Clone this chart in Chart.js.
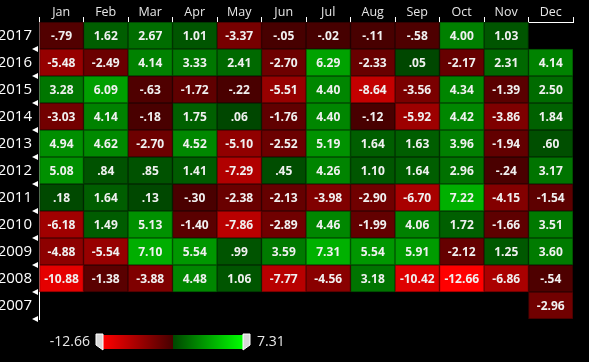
<!DOCTYPE html>
<html>
<head>
<meta charset="utf-8">
<script src="https://cdn.jsdelivr.net/npm/chart.js@4/dist/chart.umd.min.js"></script>
<style>
html,body{margin:0;padding:0;background:#000;}
#wrap{width:589px;height:362px;position:relative;}
</style>
</head>
<body>
<div id="wrap"><canvas id="c" width="589" height="362"></canvas></div>
<script>
const months = ["Jan","Feb","Mar","Apr","May","Jun","Jul","Aug","Sep","Oct","Nov","Dec"];
const years = ["2017","2016","2015","2014","2013","2012","2011","2010","2009","2008","2007"];
const y2017 = [-0.79, 1.62, 2.67, 1.01, -3.37, -0.05, -0.02, -0.11, -0.58, 4.00, 1.03, null];
const y2016 = [-5.48, -2.49, 4.14, 3.33, 2.41, -2.70, 6.29, -2.33, 0.05, -2.17, 2.31, 4.14];
const y2015 = [3.28, 6.09, -0.63, -1.72, -0.22, -5.51, 4.40, -8.64, -3.56, 4.34, -1.39, 2.50];
const y2014 = [-3.03, 4.14, -0.18, 1.75, 0.06, -1.76, 4.40, -0.12, -5.92, 4.42, -3.86, 1.84];
const y2013 = [4.94, 4.62, -2.70, 4.52, -5.10, -2.52, 5.19, 1.64, 1.63, 3.96, -1.94, 0.60];
const y2012 = [5.08, 0.84, 0.85, 1.41, -7.29, 0.45, 4.26, 1.10, 1.64, 2.96, -0.24, 3.17];
const y2011 = [0.18, 1.64, 0.13, -0.30, -2.38, -2.13, -3.98, -2.90, -6.70, 7.22, -4.15, -1.54];
const y2010 = [-6.18, 1.49, 5.13, -1.40, -7.86, -2.89, 4.46, -1.99, 4.06, 1.72, -1.66, 3.51];
const y2009 = [-4.88, -5.54, 7.10, 5.54, 0.99, 3.59, 7.31, 5.54, 5.91, -2.12, 1.25, 3.60];
const y2008 = [-10.88, -1.38, -3.88, 4.48, 1.06, -7.77, -4.56, 3.18, -10.42, -12.66, -6.86, -0.54];
const y2007 = [null, null, null, null, null, null, null, null, null, null, null, -2.96];
const rows = [y2017, y2016, y2015, y2014, y2013, y2012, y2011, y2010, y2009, y2008, y2007];
const minVal = -12.66, maxVal = 7.31;

const scaleMax = Math.max(Math.abs(minVal), Math.abs(maxVal));
function shade(v, f) {
  const c = Math.round((70 + 185 * Math.min(1, Math.abs(v) / scaleMax)) * f);
  return v < 0 ? `rgb(${c},0,0)` : `rgb(0,${c},0)`;
}
function fmt(v) {
  return v.toFixed(2).replace(/^(-?)0\./, "$1.");
}

const datasets = months.map((m, j) => ({
  label: m,
  data: rows.map(r => r[j] == null ? null : [j, j + 1]),
  vals: rows.map(r => r[j]),
  backgroundColor: rows.map(r => r[j] == null ? 'rgba(0,0,0,0)' : shade(r[j], 1)),
  borderColor: rows.map(r => r[j] == null ? 'rgba(0,0,0,0)' : shade(r[j], 0.55)),
  borderWidth: 1,
  borderSkipped: false,
  barPercentage: 1,
  categoryPercentage: 1,
  grouped: false
}));

const cellText = {
  id: 'cellText',
  afterDatasetsDraw(chart) {
    const ctx = chart.ctx;
    ctx.save();
    ctx.font = 'bold 12px "Open Sans"';
    ctx.fillStyle = '#f0f0f0';
    ctx.textAlign = 'center';
    ctx.textBaseline = 'middle';
    chart.data.datasets.forEach((ds, di) => {
      const meta = chart.getDatasetMeta(di);
      meta.data.forEach((el, i) => {
        const v = ds.vals[i];
        if (v == null) return;
        const p = el.getProps(['x', 'y', 'base'], true);
        ctx.fillText(fmt(v), (p.x + p.base) / 2, p.y + 1);
      });
    });
    ctx.restore();
  }
};

const decor = {
  id: 'decor',
  afterDraw(chart) {
    const ctx = chart.ctx;
    const ys = chart.scales.y;
    const ca = chart.chartArea;
    const rowH = ys.getPixelForValue(1) - ys.getPixelForValue(0);
    ctx.save();
    ctx.fillStyle = '#ffffff';
    for (let i = 0; i < years.length; i++) {
      const yb = ys.getPixelForValue(i) + rowH / 2;
      ctx.beginPath();
      ctx.moveTo(ca.left - 7, yb);
      ctx.lineTo(ca.left - 1, yb - 3);
      ctx.lineTo(ca.left - 1, yb + 3);
      ctx.closePath();
      ctx.fill();
    }
    // colour legend
    const bx0 = 103, bx1 = 243, by = 335, bh = 14;
    const mid = (bx0 + bx1) / 2;
    let g = ctx.createLinearGradient(bx0, 0, mid, 0);
    g.addColorStop(0, 'rgb(255,0,0)');
    g.addColorStop(1, 'rgb(70,0,0)');
    ctx.fillStyle = g;
    ctx.fillRect(bx0, by, mid - bx0, bh);
    g = ctx.createLinearGradient(mid, 0, bx1, 0);
    g.addColorStop(0, 'rgb(0,70,0)');
    g.addColorStop(1, 'rgb(0,255,0)');
    ctx.fillStyle = g;
    ctx.fillRect(mid, by, bx1 - mid, bh);
    function handle(x, left) {
      ctx.beginPath();
      if (left) {
        ctx.moveTo(x - 7, by - 1);
        ctx.lineTo(x, by - 1);
        ctx.lineTo(x, by + bh + 1);
        ctx.lineTo(x - 7, by + bh - 4);
      } else {
        ctx.moveTo(x, by - 1);
        ctx.lineTo(x + 7, by - 1);
        ctx.lineTo(x + 7, by + bh - 4);
        ctx.lineTo(x, by + bh + 1);
      }
      ctx.closePath();
      ctx.fillStyle = '#d8d8d8';
      ctx.fill();
      ctx.strokeStyle = '#ffffff';
      ctx.lineWidth = 1;
      ctx.stroke();
    }
    handle(bx0, true);
    handle(bx1, false);
    ctx.font = '14px "Open Sans"';
    ctx.fillStyle = '#e8e8e8';
    ctx.textBaseline = 'middle';
    ctx.textAlign = 'right';
    ctx.fillText(fmt(minVal), bx0 - 13, by + bh / 2);
    ctx.textAlign = 'left';
    ctx.fillText(fmt(maxVal), bx1 + 14, by + bh / 2);
    ctx.restore();
  }
};

new Chart(document.getElementById('c'), {
  type: 'bar',
  data: { labels: years, datasets },
  options: {
    responsive: false,
    animation: false,
    indexAxis: 'y',
    layout: { padding: { left: 0, right: 16, top: 0, bottom: 43 } },
    plugins: { legend: { display: false }, tooltip: { enabled: false } },
    scales: {
      x: {
        type: 'linear',
        position: 'top',
        min: 0,
        max: 12,
        afterFit: s => { s.height = 22; },
        afterBuildTicks: s => { s.ticks = months.map((m, i) => ({ value: i })).concat([{ value: 12 }]); },
        ticks: {
          autoSkip: false,
          maxRotation: 0,
          padding: -3,
          labelOffset: 22.2,
          color: '#e6e6e6',
          font: { family: 'Open Sans', size: 12.5 },
          callback: v => months[v] || ''
        },
        grid: { drawOnChartArea: false, color: '#ffffff', tickColor: '#ffffff', tickLength: 5, lineWidth: 1 },
        border: { color: '#ffffff', width: 1 }
      },
      y: {
        type: 'category',
        offset: true,
        afterFit: s => { s.width = 39; },
        ticks: {
          color: '#ffffff',
          padding: 7,
          font: { family: 'Open Sans', size: 15 }
        },
        grid: { display: false, drawTicks: false },
        border: { color: '#ffffff', width: 1 }
      }
    }
  },
  plugins: [cellText, decor]
});
</script>
</body>
</html>
